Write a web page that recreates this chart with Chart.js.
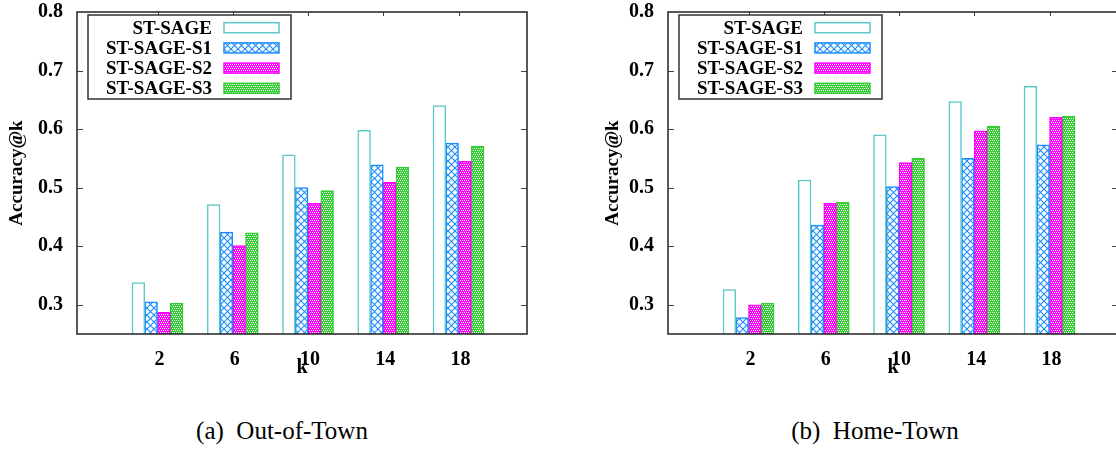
<!DOCTYPE html>
<html>
<head>
<meta charset="UTF-8">
<title>Accuracy@k</title>
<script src="https://cdn.jsdelivr.net/npm/chart.js@4.4.0/dist/chart.umd.min.js"></script>
<style>
body{margin:0;width:1116px;height:452px;overflow:hidden;background:#fff;position:relative;font-family:"Liberation Serif",serif}
canvas{position:absolute;top:0;left:0}
#wA{position:absolute;left:0;top:0;width:558px;height:380px}
#wB{position:absolute;left:596px;top:0;width:520px;height:380px;overflow:hidden}
.cap{position:absolute;top:416px;font-size:25px;text-align:center;width:300px;color:#000;line-height:30px}
</style>
</head>
<body>
<div id="wA"><canvas id="cA" width="558" height="380"></canvas></div>
<div id="wB"><canvas id="cB" width="600" height="380"></canvas></div>
<div class="cap" style="left:132px">(a)&nbsp; Out-of-Town</div>
<div class="cap" style="left:725px">(b)&nbsp; Home-Town</div>
<script>
var kLabels = ['2', '6', '10', '14', '18'];
var seriesNames = ['ST-SAGE', 'ST-SAGE-S1', 'ST-SAGE-S2', 'ST-SAGE-S3'];
var yTicks = [0.3, 0.4, 0.5, 0.6, 0.7, 0.8];

// (a) Out-of-Town
var outStSage = [0.338, 0.471, 0.556, 0.598, 0.640];
var outS1     = [0.305, 0.424, 0.500, 0.539, 0.576];
var outS2     = [0.287, 0.401, 0.473, 0.509, 0.545];
var outS3     = [0.303, 0.423, 0.495, 0.535, 0.571];

// (b) Home-Town
var homeStSage = [0.326, 0.513, 0.590, 0.647, 0.673];
var homeS1     = [0.278, 0.436, 0.502, 0.550, 0.573];
var homeS2     = [0.300, 0.473, 0.543, 0.597, 0.620];
var homeS3     = [0.303, 0.475, 0.550, 0.605, 0.622];

var serif = 'Liberation Serif';
var lineColors = ['#5cc8c8', '#1a8cff', '#ff00ff', '#33cc33'];

function hatch(kind) {
    var c = document.createElement('canvas');
    var g = c.getContext('2d');
    if (kind === 'cross') {
        c.width = c.height = 7;
        g.fillStyle = '#fff';
        g.fillRect(0, 0, 7, 7);
        g.strokeStyle = '#1a8cff';
        g.lineWidth = 1.1;
        g.beginPath();
        g.moveTo(0, 0); g.lineTo(7, 7);
        g.moveTo(7, 0); g.lineTo(0, 7);
        g.stroke();
    } else {
        c.width = c.height = 4;
        g.fillStyle = kind;
        g.fillRect(0, 0, 4, 4);
        g.fillStyle = '#fff';
        g.fillRect(0, 0, 1, 1);
        g.fillRect(2, 0, 1, 1);
        g.fillRect(1, 2, 1, 1);
        g.fillRect(3, 2, 1, 1);
    }
    return g.createPattern(c, 'repeat');
}

function makeSets(a, b, c, d) {
    var vals = [a, b, c, d];
    var fills = ['#ffffff', hatch('cross'), hatch('#ff00ff'), hatch('#33cc33')];
    return seriesNames.map(function (name, j) {
        return {
            label: name,
            data: vals[j].map(function (v, i) { return { x: i, y: v }; }),
            backgroundColor: fills[j],
            borderColor: lineColors[j],
            borderWidth: 1.5,
            barThickness: 12.75
        };
    });
}

// box around the plot, inward ticks and the boxed legend (gnuplot look)
var framePlugin = {
    id: 'frame',
    afterDatasetsDraw: function (chart) {
        var a = chart.chartArea, g = chart.ctx;
        var xs = chart.scales.x, ys = chart.scales.y;
        g.save();
        g.strokeStyle = '#444';
        g.lineWidth = 1;
        g.beginPath();
        yTicks.forEach(function (t) {
            if (t >= ys.max) return;
            var y = Math.round(ys.getPixelForValue(t)) + 0.5;
            g.moveTo(a.left, y); g.lineTo(a.left + 6, y);
            g.moveTo(a.right, y); g.lineTo(a.right - 6, y);
        });
        kLabels.forEach(function (_, i) {
            var x = Math.round(xs.getPixelForValue(i)) + 0.5;
            g.moveTo(x, a.top); g.lineTo(x, a.top + 4);
        });
        g.stroke();
        g.strokeStyle = '#222';
        g.lineWidth = 1.5;
        g.strokeRect(a.left, a.top, a.right - a.left, a.bottom - a.top);

        // legend
        var lx = a.left + 11, ly = a.top + 3;
        g.fillStyle = '#fff';
        g.fillRect(lx, ly, 203, 84);
        g.strokeStyle = '#333';
        g.lineWidth = 1.5;
        g.strokeRect(lx, ly, 203, 84);
        g.font = 'bold 19px "' + serif + '"';
        g.textAlign = 'right';
        g.textBaseline = 'middle';
        chart.data.datasets.forEach(function (ds, j) {
            var cy = a.top + 15.7 + j * 20.2;
            g.fillStyle = '#000';
            g.fillText(ds.label, a.left + 135, cy + 1);
            g.fillStyle = ds.backgroundColor;
            g.fillRect(a.left + 147, cy - 5, 55, 10);
            g.strokeStyle = ds.borderColor;
            g.lineWidth = 1.5;
            g.strokeRect(a.left + 147, cy - 5, 55, 10);
        });
        g.restore();
    }
};

function makeChart(id, sets, yWidth, padRight) {
    var ctx = document.getElementById(id).getContext('2d');
    return new Chart(ctx, {
        type: 'bar',
        data: { datasets: sets },
        options: {
            responsive: false,
            animation: false,
            layout: { padding: { top: 12, right: padRight, left: 0, bottom: 0 } },
            plugins: { legend: { display: false }, tooltip: { enabled: false } },
            scales: {
                x: {
                    type: 'linear',
                    offset: false,
                    min: -1.07,
                    max: 4.91,
                    afterBuildTicks: function (s) {
                        s.ticks = kLabels.map(function (_, i) { return { value: i }; });
                    },
                    ticks: {
                        autoSkip: false,
                        maxRotation: 0,
                        padding: 14,
                        labelOffset: 2,
                        color: '#000',
                        font: { family: serif, weight: 'bold', size: 20 },
                        callback: function (v) { return kLabels[v]; }
                    },
                    grid: { display: false, drawTicks: false },
                    border: { display: false },
                    title: {
                        display: true, text: 'k', color: '#000',
                        font: { family: serif, weight: 'bold', size: 20 },
                        padding: { top: 0, bottom: 0 }
                    },
                    afterFit: function (s) {
                        s.height = 46;
                        s.paddingLeft = 0;
                        s.paddingRight = 0;
                    }
                },
                y: {
                    min: 0.25,
                    max: 0.8,
                    afterBuildTicks: function (s) {
                        s.ticks = yTicks.map(function (v) { return { value: v }; });
                    },
                    ticks: {
                        padding: 14,
                        color: '#000',
                        font: { family: serif, weight: 'bold', size: 20 },
                        callback: function (v) { return v.toFixed(1); }
                    },
                    grid: { display: false, drawTicks: false },
                    border: { display: false },
                    title: {
                        display: true, text: 'Accuracy@k', color: '#000',
                        font: { family: serif, weight: 'bold', size: 19 },
                        padding: { top: 6, bottom: 0 }
                    },
                    afterFit: function (s) {
                        s.width = yWidth;
                        s.paddingTop = 0;
                        s.paddingBottom = 0;
                    }
                }
            }
        },
        plugins: [framePlugin]
    });
}

makeChart('cA', makeSets(outStSage, outS1, outS2, outS3), 77, 31);
makeChart('cB', makeSets(homeStSage, homeS1, homeS2, homeS3), 72, 78);
</script>
</body>
</html>
